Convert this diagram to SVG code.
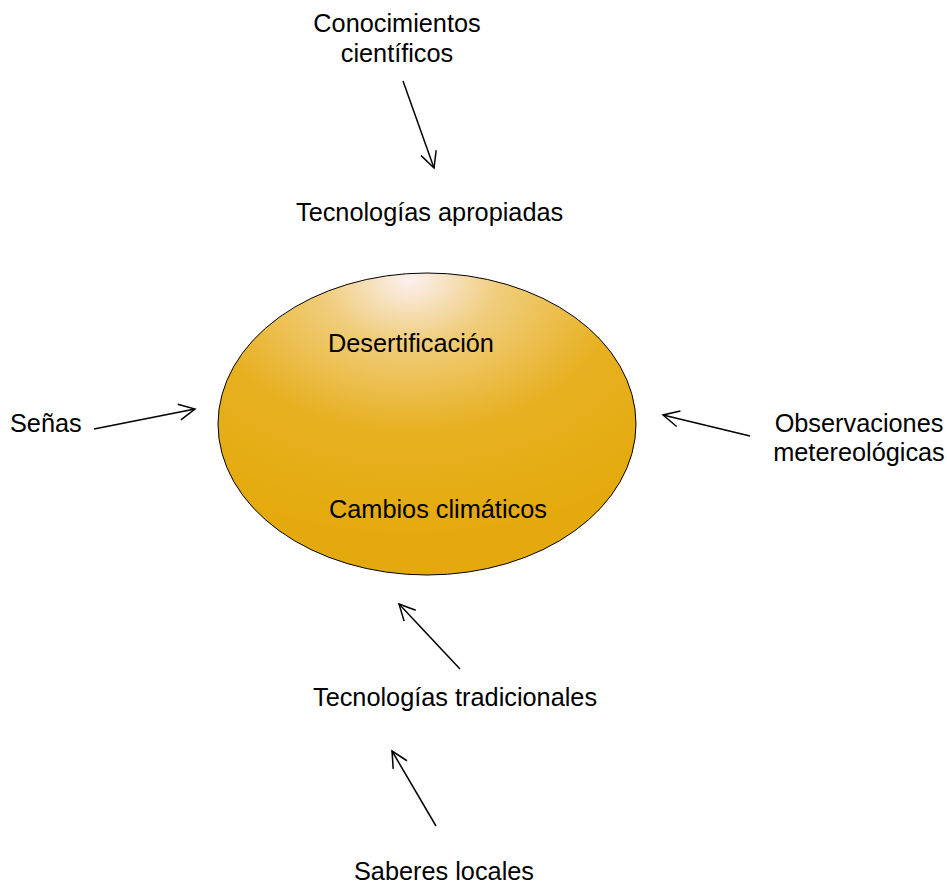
<svg xmlns="http://www.w3.org/2000/svg" width="947" height="886" viewBox="0 0 947 886">
<style>
text{font-family:"Liberation Sans",Arial,sans-serif;font-size:25.3px;fill:#000}
.c{stroke:#000;stroke-width:1.5;fill:none}
</style>
<defs>
<radialGradient id="g" cx="0.46" cy="0.02" r="0.85" fx="0.46" fy="0.02">
<stop offset="0" stop-color="#FCF0F0"/>
<stop offset="0.25" stop-color="#F0CD7C"/>
<stop offset="0.6" stop-color="#E7B020"/>
<stop offset="1" stop-color="#E4AA0D"/>
</radialGradient>
<marker id="a" viewBox="0 0 20 20" refX="18" refY="10" markerWidth="20" markerHeight="20" markerUnits="userSpaceOnUse" orient="auto">
<path d="M2,2 L18,10 L2,18" fill="none" stroke="#000" stroke-width="1.5"/>
</marker>
</defs>
<g id="n-centro">
<ellipse cx="427" cy="424" rx="209" ry="151" fill="url(#g)" stroke="#000" stroke-width="1"/>
<text x="328" y="352">Desertificación</text>
<text x="329" y="518">Cambios climáticos</text>
</g>
<g id="n-conocimientos"><text x="397" y="32" text-anchor="middle">Conocimientos</text><text x="397" y="62" text-anchor="middle">científicos</text></g>
<g id="n-apropiadas"><text x="296" y="221">Tecnologías apropiadas</text></g>
<g id="n-senas"><text x="10" y="432">Señas</text></g>
<g id="n-observaciones"><text x="859" y="432" text-anchor="middle">Observaciones</text><text x="859" y="461" text-anchor="middle">metereológicas</text></g>
<g id="n-tradicionales"><text x="313" y="706">Tecnologías tradicionales</text></g>
<g id="n-saberes"><text x="354" y="880">Saberes locales</text></g>
<g id="connectors">
<line class="c" x1="403" y1="81" x2="434" y2="168" marker-end="url(#a)"/>
<line class="c" x1="94" y1="429" x2="195" y2="409" marker-end="url(#a)"/>
<line class="c" x1="750" y1="436" x2="663" y2="415" marker-end="url(#a)"/>
<line class="c" x1="460" y1="669" x2="399" y2="604" marker-end="url(#a)"/>
<line class="c" x1="436" y1="826" x2="392" y2="751" marker-end="url(#a)"/>
</g>
</svg>
